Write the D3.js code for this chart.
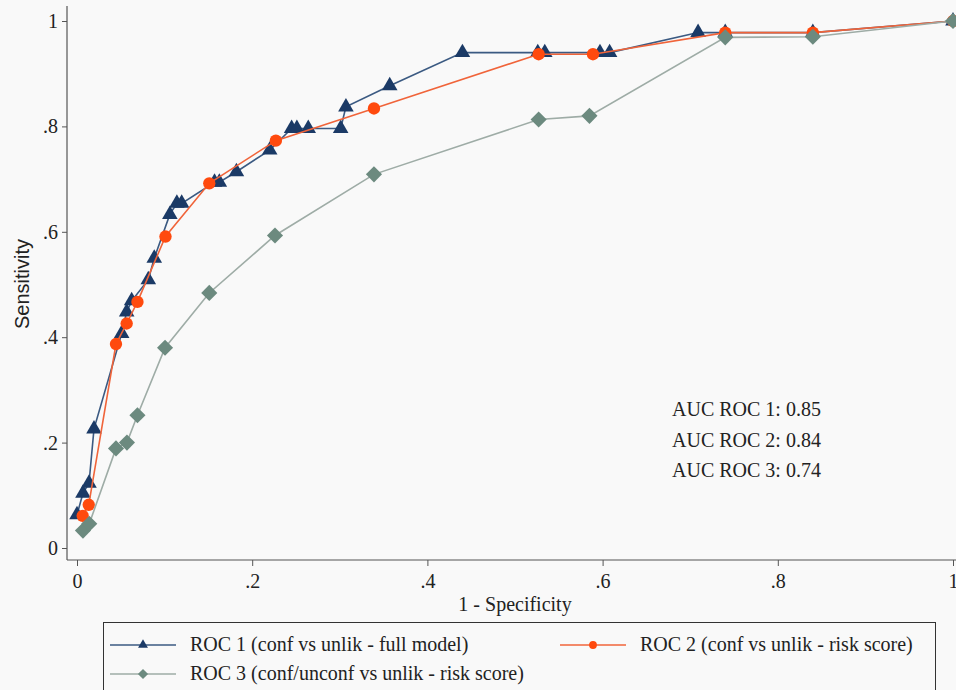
<!DOCTYPE html>
<html>
<head>
<meta charset="utf-8">
<script src="https://cdn.jsdelivr.net/npm/d3@7"></script>
<style>
  html, body { margin: 0; padding: 0; background: #f9f9f9; }
  svg { display: block; }
  .tick line { stroke: #555; }
</style>
</head>
<body>
<div id="chart"></div>
<script>
// ROC curve points (1 - specificity, sensitivity)
const roc1X = [0, 0.0068, 0.0137, 0.0194, 0.051, 0.0567, 0.0624, 0.0814, 0.0882, 0.106, 0.114, 0.1195,
  0.157, 0.1625, 0.182, 0.220, 0.245, 0.251, 0.264, 0.301, 0.307, 0.357, 0.44, 0.526, 0.534, 0.597, 0.608,
  0.709, 0.74, 0.84, 1];
const roc1Y = [0.063, 0.104, 0.123, 0.226, 0.407, 0.448, 0.469, 0.509, 0.550, 0.633, 0.654, 0.654,
  0.694, 0.694, 0.714, 0.755, 0.796, 0.796, 0.796, 0.796, 0.837, 0.877, 0.940, 0.940, 0.940, 0.940, 0.940,
  0.978, 0.978, 0.978, 1];

const roc2X = [0.0065, 0.0134, 0.0445, 0.0567, 0.069, 0.101, 0.151, 0.227, 0.339, 0.527, 0.589, 0.74, 0.84, 1];
const roc2Y = [0.061, 0.082, 0.387, 0.426, 0.467, 0.591, 0.692, 0.773, 0.834, 0.937, 0.937, 0.978, 0.978, 1];

const roc3X = [0.0068, 0.014, 0.0445, 0.057, 0.069, 0.1005, 0.151, 0.226, 0.339, 0.527, 0.585, 0.74, 0.84, 1];
const roc3Y = [0.033, 0.046, 0.189, 0.200, 0.252, 0.380, 0.484, 0.593, 0.709, 0.813, 0.820, 0.969, 0.970, 1];

const tickValues = [0, 0.2, 0.4, 0.6, 0.8, 1];
const tickLabels = ["0", ".2", ".4", ".6", ".8", "1"];

const seriesNames = [
  "ROC 1 (conf vs unlik - full model)",
  "ROC 2 (conf vs unlik - risk score)",
  "ROC 3 (conf/unconf vs unlik - risk score)"
];
const aucLabels = ["AUC ROC 1: 0.85", "AUC ROC 2: 0.84", "AUC ROC 3: 0.74"];

const width = 956, height = 690;
const SERIF = "'Liberation Serif', 'Times New Roman', Times, 'DejaVu Serif', serif";

const svg = d3.select('#chart').append('svg')
  .attr('width', width).attr('height', height);

const x = d3.scaleLinear().domain([0, 1]).range([77, 953]);
const y = d3.scaleLinear().domain([0, 1]).range([548, 21]);

// plot region edges (a little outside the data range, like Stata)
const leftEdge = 67, bottomEdge = 560, topEdge = 6;

const series = [
  { xs: roc1X, ys: roc1Y, line: '#3b5a82', fill: '#1b3a66', shape: d3.symbolTriangle, size: 105, rot: 0 },
  { xs: roc2X, ys: roc2Y, line: '#f0643a', fill: '#ff4a0e', shape: d3.symbolCircle, size: 120, rot: 0 },
  { xs: roc3X, ys: roc3Y, line: '#9eaca6', fill: '#6c8a7f', shape: d3.symbolSquare, size: 130, rot: 45 }
];

// axes
const yAxis = d3.axisLeft(y)
  .tickValues(tickValues)
  .tickFormat((d, i) => tickLabels[i])
  .tickSize(5)
  .tickPadding(4);
const yg = svg.append('g')
  .attr('transform', 'translate(' + leftEdge + ',0)')
  .call(yAxis)
  .attr('font-family', SERIF)
  .attr('font-size', 20);
yg.select('.domain').remove();

const xAxis = d3.axisBottom(x)
  .tickValues(tickValues)
  .tickFormat((d, i) => tickLabels[i])
  .tickSize(6)
  .tickPadding(8);
const xg = svg.append('g')
  .attr('transform', 'translate(0,' + bottomEdge + ')')
  .call(xAxis)
  .attr('font-family', SERIF)
  .attr('font-size', 20);
xg.select('.domain').remove();
svg.selectAll('.tick text').attr('fill', '#222');

svg.append('line')
  .attr('x1', leftEdge).attr('x2', leftEdge)
  .attr('y1', topEdge).attr('y2', bottomEdge)
  .attr('stroke', '#555').attr('stroke-width', 1.2);
svg.append('line')
  .attr('x1', leftEdge).attr('x2', width)
  .attr('y1', bottomEdge).attr('y2', bottomEdge)
  .attr('stroke', '#555').attr('stroke-width', 1.2);

// axis titles
svg.append('text')
  .attr('x', 515).attr('y', 611)
  .attr('text-anchor', 'middle')
  .attr('font-family', SERIF)
  .attr('font-size', 20)
  .attr('fill', '#222')
  .text('1 - Specificity');

svg.append('text')
  .attr('transform', 'translate(29,284) rotate(-90)')
  .attr('text-anchor', 'middle')
  .attr('font-family', "'Liberation Sans', Arial, sans-serif")
  .attr('font-size', 20)
  .attr('fill', '#222')
  .text('Sensitivity');

// curves
const line = d3.line().x(d => x(d[0])).y(d => y(d[1]));

series.forEach(s => {
  const pts = s.xs.map((v, i) => [v, s.ys[i]]);
  svg.append('path')
    .datum(pts)
    .attr('fill', 'none')
    .attr('stroke', s.line)
    .attr('stroke-width', 1.6)
    .attr('d', line);
  svg.append('g')
    .selectAll('path')
    .data(pts)
    .enter()
    .append('path')
    .attr('transform', d => 'translate(' + x(d[0]) + ',' + y(d[1]) + ') rotate(' + s.rot + ')')
    .attr('d', d3.symbol().type(s.shape).size(s.size))
    .attr('fill', s.fill);
});

// AUC notes
svg.append('g')
  .selectAll('text')
  .data(aucLabels)
  .enter()
  .append('text')
  .attr('x', 672)
  .attr('y', (d, i) => 416 + i * 30.5)
  .attr('font-family', SERIF)
  .attr('font-size', 20)
  .attr('fill', '#222')
  .text(d => d);

// legend
svg.append('rect')
  .attr('x', 103.5).attr('y', 622.5)
  .attr('width', 832).attr('height', 72)
  .attr('fill', '#f9f9f9')
  .attr('stroke', '#333').attr('stroke-width', 1);

const legendPos = [
  { x: 110, y: 645 },
  { x: 560, y: 645 },
  { x: 110, y: 674 }
];

series.forEach((s, i) => {
  const p = legendPos[i];
  const g = svg.append('g').attr('transform', 'translate(' + p.x + ',' + p.y + ')');
  g.append('line')
    .attr('x1', 0).attr('x2', 66)
    .attr('stroke', s.line).attr('stroke-width', 1.6);
  g.append('path')
    .attr('transform', 'translate(33,0) rotate(' + s.rot + ')')
    .attr('d', d3.symbol().type(s.shape).size(s.size * 0.4))
    .attr('fill', s.fill);
  g.append('text')
    .attr('x', 80).attr('y', 6)
    .attr('font-family', SERIF)
    .attr('font-size', 20)
    .attr('fill', '#222')
    .text(seriesNames[i]);
});
</script>
</body>
</html>
